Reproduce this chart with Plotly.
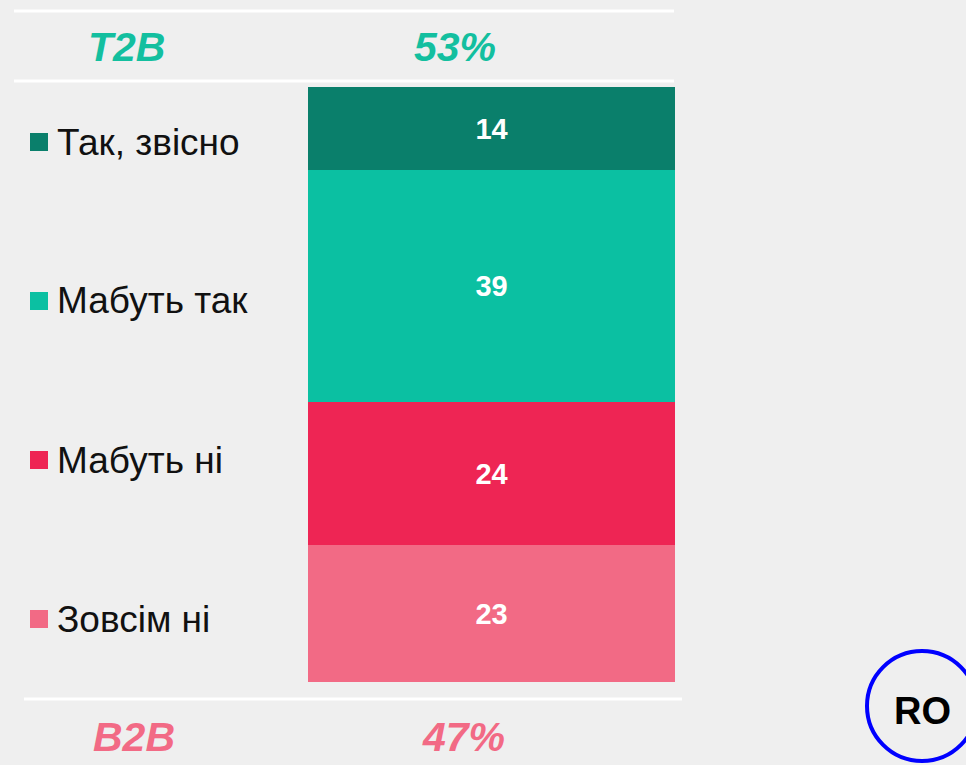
import plotly.graph_objects as go

W, H = 966, 765

# Data (top to bottom as displayed)
categories = ["Так, звісно", "Мабуть так", "Мабуть ні", "Зовсім ні"]
values = [14, 39, 24, 23]
colors = ["#0a7f6b", "#0bc0a2", "#ee2554", "#f26a85"]
summary_labels = ["T2B", "B2B"]
summary_values = ["53%", "47%"]
summary_colors = ["#13bf9f", "#f26a85"]
badge_text = "RO"

BG = "#efefef"
FONT = "Liberation Sans, Arial"

def px(x):
    return x / W

def py(y):
    return 1 - y / H

fig = go.Figure()

# stack from bottom to top
for cat, val, col in reversed(list(zip(categories, values, colors))):
    fig.add_trace(go.Bar(
        x=[0], y=[val], name=cat, width=1,
        marker=dict(color=col, line=dict(width=0)),
        text=[str(val)], textposition="inside", insidetextanchor="middle",
        textfont=dict(color="white", size=29, family=FONT),
        texttemplate="<b>%{text}</b>",
        showlegend=False,
    ))

annotations = []
shapes = []

# custom legend
legend_y = [142, 301, 460, 619]
for cat, col, ly in zip(categories, colors, legend_y):
    shapes.append(dict(type="rect", xref="paper", yref="paper",
                       x0=px(30), x1=px(48), y0=py(ly - 9), y1=py(ly + 9),
                       fillcolor=col, line=dict(width=0)))
    annotations.append(dict(text=cat, xref="paper", yref="paper",
                            x=px(55), y=py(ly), xanchor="left", yanchor="middle",
                            showarrow=False,
                            font=dict(size=37, color="#111111", family=FONT)))

# summary rows
sum_y = [47, 737]
for lab, val, col, sy, lx, vx in zip(summary_labels, summary_values, summary_colors,
                                     sum_y, [126, 134], [455, 463]):
    annotations.append(dict(text=f"<b><i>{lab}</i></b>", xref="paper", yref="paper",
                            x=px(lx), y=py(sy), xanchor="center", yanchor="middle",
                            showarrow=False,
                            font=dict(size=41, color=col, family=FONT)))
    annotations.append(dict(text=f"<b><i>{val}</i></b>", xref="paper", yref="paper",
                            x=px(vx), y=py(sy), xanchor="center", yanchor="middle",
                            showarrow=False,
                            font=dict(size=41, color=col, family=FONT)))

# white separator lines
for (x0, x1, y) in [(14, 674, 11), (14, 674, 81), (24, 682, 699)]:
    shapes.append(dict(type="line", xref="paper", yref="paper",
                       x0=px(x0), x1=px(x1), y0=py(y), y1=py(y),
                       line=dict(color="white", width=3)))

# RO badge
shapes.append(dict(type="circle", xref="paper", yref="paper",
                   x0=px(867), x1=px(977), y0=py(761), y1=py(651),
                   line=dict(color="#0000ff", width=4)))
annotations.append(dict(text=f"<b>{badge_text}</b>", xref="paper", yref="paper",
                        x=px(922), y=py(711), xanchor="center", yanchor="middle",
                        showarrow=False,
                        font=dict(size=38, color="black", family=FONT)))

fig.update_layout(
    width=W, height=H,
    margin=dict(l=0, r=0, t=0, b=0),
    paper_bgcolor=BG, plot_bgcolor=BG,
    barmode="stack", bargap=0,
    xaxis=dict(domain=[px(308), px(675)], range=[-0.5, 0.5], visible=False, fixedrange=True),
    yaxis=dict(domain=[py(682), py(87)], range=[0, 100], visible=False, fixedrange=True),
    shapes=shapes, annotations=annotations,
    showlegend=False,
)

fig.write_html(
    "out.html",
    config={"displayModeBar": False},
    post_script=f"document.body.style.margin='0';document.body.style.background='{BG}';",
)
